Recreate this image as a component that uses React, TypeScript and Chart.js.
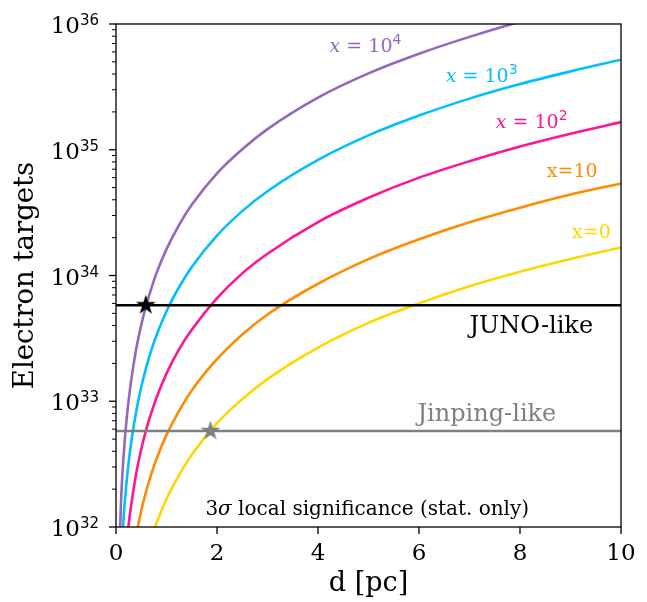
import React, { useEffect, useRef } from "react";
import { Chart, registerables } from "chart.js";

Chart.register(...registerables);

// distance grid [pc]
const D = [0.05, 0.1, 0.15, 0.2, 0.25, 0.3, 0.4, 0.5, 0.6, 0.7, 0.8, 1, 1.25, 1.5, 2, 2.5, 3, 4, 5, 6, 7, 8, 9, 10];

// electron targets needed, per curve
const nX1e4 = [4.05e31, 1.62e32, 3.65e32, 6.5e32, 1.01e33, 1.46e33, 2.6e33, 4.05e33, 5.8e33, 7.9e33, 1.04e34, 1.62e34, 2.53e34, 3.65e34, 6.5e34, 1.01e35, 1.46e35, 2.6e35, 4.05e35, 5.8e35, 7.9e35, 1.04e36, 1.31e36, 1.62e36];
const nX1e3 = [null, 5.2e31, 1.17e32, 2.08e32, 3.25e32, 4.68e32, 8.3e32, 1.3e33, 1.87e33, 2.55e33, 3.33e33, 5.2e33, 8.1e33, 1.17e34, 2.08e34, 3.25e34, 4.68e34, 8.3e34, 1.3e35, 1.87e35, 2.55e35, 3.33e35, 4.2e35, 5.2e35];
const nX1e2 = [null, null, null, 6.6e31, 1.04e32, 1.49e32, 2.66e32, 4.15e32, 6.0e32, 8.1e32, 1.06e33, 1.66e33, 2.6e33, 3.7e33, 6.6e33, 1.04e34, 1.49e34, 2.66e34, 4.15e34, 6.0e34, 8.1e34, 1.06e35, 1.34e35, 1.66e35];
const nX10 = [null, null, null, null, null, null, 8.6e31, 1.35e32, 1.94e32, 2.65e32, 3.46e32, 5.4e32, 8.4e32, 1.22e33, 2.16e33, 3.4e33, 4.9e33, 8.6e33, 1.35e34, 1.94e34, 2.65e34, 3.46e34, 4.4e34, 5.4e34];
const nX0 = [null, null, null, null, null, null, null, null, null, 8.2e31, 1.07e32, 1.67e32, 2.6e32, 3.76e32, 6.7e32, 1.04e33, 1.5e33, 2.67e33, 4.2e33, 6.0e33, 8.2e33, 1.07e34, 1.35e34, 1.67e34];

// detector exposures
const junoTargets = 5.8e33;
const jinpingTargets = 5.8e32;
const lineD = [0, 10];

// marked crossing points
const junoStarD = [0.59];
const junoStarN = [5.8e33];
const jinpingStarD = [1.87];
const jinpingStarN = [5.8e32];

// axes
const xMin = 0, xMax = 10;
const yMin = 1e32, yMax = 1e36;
const xTicks = [0, 2, 4, 6, 8, 10];
const xTickLabels = ["0", "2", "4", "6", "8", "10"];
const yTicks = [1e32, 1e33, 1e34, 1e35, 1e36];
const yTickExps = ["32", "33", "34", "35", "36"];

const SERIF = '"DejaVu Serif", serif';
const SANS = '"DejaVu Sans", sans-serif';

function pts(xs: number[], ys: (number | null)[]) {
  const out: { x: number; y: number }[] = [];
  xs.forEach((x, i) => {
    const y = ys[i];
    if (y !== null && y !== undefined) out.push({ x, y });
  });
  return out;
}

function makeStar(color: string, size: number) {
  const c = document.createElement("canvas");
  c.width = size;
  c.height = size;
  const g = c.getContext("2d")!;
  const cx = size / 2, cy = size / 2;
  const R = size / 2 - 0.5;
  const r = R * 0.381966;
  g.beginPath();
  for (let i = 0; i < 10; i++) {
    const a = -Math.PI / 2 + (i * Math.PI) / 5;
    const rad = i % 2 === 0 ? R : r;
    g.lineTo(cx + rad * Math.cos(a), cy + rad * Math.sin(a));
  }
  g.closePath();
  g.fillStyle = color;
  g.fill();
  return c;
}

type Part = { t: string; font: string; dy?: number };

function drawParts(ctx: CanvasRenderingContext2D, x: number, y: number, parts: Part[], align: "left" | "right" | "center") {
  let total = 0;
  for (const p of parts) {
    ctx.font = p.font;
    total += ctx.measureText(p.t).width;
  }
  let cx = align === "left" ? x : align === "right" ? x - total : x - total / 2;
  ctx.textAlign = "left";
  ctx.textBaseline = "alphabetic";
  for (const p of parts) {
    ctx.font = p.font;
    ctx.fillText(p.t, cx, y + (p.dy || 0));
    cx += ctx.measureText(p.t).width;
  }
}

const decorPlugin = {
  id: "decor",
  afterDatasetsDraw(chart: any) {
    const ctx: CanvasRenderingContext2D = chart.ctx;
    const xs = chart.scales.x;
    const ys = chart.scales.y;
    const ca = chart.chartArea;
    ctx.save();

    // annotations
    const ann = (d: number, n: number, color: string, parts: Part[]) => {
      ctx.fillStyle = color;
      drawParts(ctx, xs.getPixelForValue(d), ys.getPixelForValue(n), parts, "left");
    };
    const f19 = `19px ${SERIF}`;
    const f19i = `italic 19px ${SERIF}`;
    const sup = `14px ${SANS}`;
    ann(4.23, 6.0e35, "#9467bd", [{ t: "x", font: f19i }, { t: " = 10", font: f19 }, { t: "4", font: sup, dy: -8 }]);
    ann(6.53, 3.46e35, "#00bfff", [{ t: "x", font: f19i }, { t: " = 10", font: f19 }, { t: "3", font: sup, dy: -8 }]);
    ann(7.52, 1.49e35, "#ff1493", [{ t: "x", font: f19i }, { t: " = 10", font: f19 }, { t: "2", font: sup, dy: -8 }]);
    ann(8.53, 6.07e34, "#ff8c00", [{ t: "x=10", font: f19 }]);
    ann(9.03, 1.99e34, "#ffd700", [{ t: "x=0", font: f19 }]);
    ann(7.0, 3.49e33, "#000000", [{ t: "JUNO-like", font: `24px ${SERIF}` }]);
    ann(5.97, 6.97e32, "#808080", [{ t: "Jinping-like", font: `24px ${SERIF}` }]);
    ann(1.77, 1.24e32, "#000000", [
      { t: "3", font: `20px ${SERIF}` },
      { t: "σ", font: `italic 20px ${SERIF}` },
      { t: " local significance (stat. only)", font: `20px ${SERIF}` },
    ]);

    // frame
    ctx.strokeStyle = "#000";
    ctx.lineWidth = 1.3;
    ctx.strokeRect(ca.left, ca.top, ca.right - ca.left, ca.bottom - ca.top);

    // x ticks
    ctx.fillStyle = "#000";
    ctx.lineWidth = 1.3;
    xTicks.forEach((v, i) => {
      const px = xs.getPixelForValue(v);
      ctx.beginPath();
      ctx.moveTo(px, ca.bottom);
      ctx.lineTo(px, ca.bottom + 7);
      ctx.stroke();
      ctx.font = `23px ${SERIF}`;
      ctx.textAlign = "center";
      ctx.textBaseline = "alphabetic";
      ctx.fillText(xTickLabels[i], px, ca.bottom + 33);
    });

    // y major ticks + labels
    yTicks.forEach((v, i) => {
      const py = ys.getPixelForValue(v);
      ctx.lineWidth = 1.3;
      ctx.beginPath();
      ctx.moveTo(ca.left, py);
      ctx.lineTo(ca.left - 7, py);
      ctx.stroke();
      drawParts(ctx, ca.left - 17, py + 9, [
        { t: "10", font: `23px ${SERIF}` },
        { t: yTickExps[i], font: `15px ${SANS}`, dy: -8 },
      ], "right");
    });
    // y minor ticks
    ctx.lineWidth = 1;
    for (let e = 32; e < 36; e++) {
      for (let k = 2; k <= 9; k++) {
        const py = ys.getPixelForValue(k * Math.pow(10, e));
        ctx.beginPath();
        ctx.moveTo(ca.left, py);
        ctx.lineTo(ca.left - 4, py);
        ctx.stroke();
      }
    }

    // axis labels
    ctx.fillStyle = "#000";
    ctx.font = `27px ${SERIF}`;
    ctx.textAlign = "center";
    ctx.textBaseline = "alphabetic";
    ctx.fillText("d [pc]", (ca.left + ca.right) / 2, 591);
    ctx.save();
    ctx.translate(33, (ca.top + ca.bottom) / 2);
    ctx.rotate(-Math.PI / 2);
    ctx.font = `27.5px ${SERIF}`;
    ctx.fillText("Electron targets", 0, 0);
    ctx.restore();

    ctx.restore();
  },
};

export default function App() {
  const ref = useRef<HTMLCanvasElement | null>(null);
  useEffect(() => {
    if (!ref.current) return;
    const curve = (label: string, ys: (number | null)[], color: string) => ({
      label,
      data: pts(D, ys),
      borderColor: color,
      backgroundColor: color,
      borderWidth: 2.6,
      pointRadius: 0,
      cubicInterpolationMode: "monotone" as const,
      fill: false,
    });
    const hline = (label: string, n: number, color: string, w: number) => ({
      label,
      data: lineD.map((d) => ({ x: d, y: n })),
      borderColor: color,
      borderWidth: w,
      pointRadius: 0,
      fill: false,
    });
    const star = (label: string, ds: number[], ns: number[], color: string) => ({
      label,
      data: pts(ds, ns),
      showLine: false,
      pointStyle: makeStar(color, 22),
      pointRadius: 11,
      borderColor: color,
      backgroundColor: color,
    });
    const chart = new Chart(ref.current, {
      type: "line",
      data: {
        datasets: [
          star("JUNO star", junoStarD, junoStarN, "#000000"),
          star("Jinping star", jinpingStarD, jinpingStarN, "#808080"),
          hline("JUNO-like", junoTargets, "#000000", 2.4),
          hline("Jinping-like", jinpingTargets, "#808080", 2.6),
          curve("x=1e4", nX1e4, "#9467bd"),
          curve("x=1e3", nX1e3, "#00bfff"),
          curve("x=1e2", nX1e2, "#ff1493"),
          curve("x=10", nX10, "#ff8c00"),
          curve("x=0", nX0, "#ffd700"),
        ] as any,
      },
      options: {
        animation: false,
        responsive: false,
        devicePixelRatio: 1,
        layout: { padding: { top: 24, right: 26, left: 0, bottom: 0 } },
        plugins: { legend: { display: false }, tooltip: { enabled: false } },
        scales: {
          x: {
            type: "linear",
            min: xMin,
            max: xMax,
            grid: { display: false },
            border: { display: false },
            ticks: { display: false },
            afterFit: (s: any) => { s.height = 75; },
          },
          y: {
            type: "logarithmic",
            min: yMin,
            max: yMax,
            grid: { display: false },
            border: { display: false },
            ticks: { display: false },
            afterFit: (s: any) => { s.width = 116; },
          },
        },
      } as any,
      plugins: [decorPlugin],
    });
    return () => chart.destroy();
  }, []);
  return (
    <div style={{ position: "fixed", left: 0, top: 0, width: 647, height: 602, background: "#fff" }}>
      <canvas ref={ref} width={647} height={602} style={{ display: "block" }} />
    </div>
  );
}
